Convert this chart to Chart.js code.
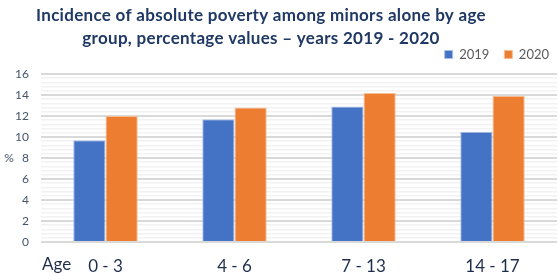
<!DOCTYPE html>
<html>
<head>
<meta charset="utf-8">
<script src="https://cdn.jsdelivr.net/npm/chart.js@4/dist/chart.umd.min.js"></script>
<style>
  html, body { margin: 0; padding: 0; background: #ffffff; }
  #wrap { width: 558px; height: 274px; position: relative; }
</style>
</head>
<body>
<div id="wrap"><canvas id="c"></canvas></div>
<script>
const titleLines = ['Incidence of absolute poverty among minors alone by age', 'group, percentage values \u2013 years 2019 - 2020'];
const categories = ['0 - 3', '4 - 6', '7 - 13', '14 - 17'];
const seriesNames = ['2019', '2020'];
const values2019 = [9.7, 11.7, 12.9, 10.5];
const values2020 = [12.0, 12.8, 14.2, 13.9];
const yMin = 0;
const yMax = 16;
const yMajorStep = 2;
const yMinorStep = 0.4;
const yUnitLabel = '%';
const xAxisLabel = 'Age';

const isMajor = v => Math.abs(v / yMajorStep - Math.round(v / yMajorStep)) < 1e-6;

const extraText = {
  id: 'extraText',
  afterLayout(chart) {
    const lg = chart.legend;
    if (lg) {
      lg.left += 7; lg.right += 7;
      lg.top -= 3; lg.bottom -= 3;
    }
  },
  afterDraw(chart) {
    const ctx = chart.ctx;
    const ys = chart.scales.y;
    ctx.save();
    // title
    ctx.fillStyle = '#1F3864';
    ctx.font = 'bold 17px Lato';
    if ('letterSpacing' in ctx) ctx.letterSpacing = '0.3px';
    ctx.textAlign = 'center';
    ctx.textBaseline = 'middle';
    ctx.fillText(titleLines[0], 261, 16);
    ctx.fillText(titleLines[1], 261, 38.5);
    if ('letterSpacing' in ctx) ctx.letterSpacing = '0px';
    // % unit label
    ctx.fillStyle = '#44546A';
    ctx.font = '12px Lato';
    ctx.textAlign = 'center';
    ctx.fillText(yUnitLabel, 9, ys.getPixelForValue(8));
    // Age label
    ctx.fillStyle = '#1F2D4D';
    ctx.font = '17px Lato';
    ctx.textAlign = 'left';
    ctx.fillText(xAxisLabel, 42, 265);
    ctx.restore();
  }
};

new Chart(document.getElementById('c'), {
  type: 'bar',
  data: {
    labels: categories,
    datasets: [
      { label: seriesNames[0], data: values2019, backgroundColor: '#4472C4', borderColor: '#A9BFE6', borderWidth: 1, borderSkipped: 'bottom' },
      { label: seriesNames[1], data: values2020, backgroundColor: '#ED7D31', borderColor: '#F6BE97', borderWidth: 1, borderSkipped: 'bottom' }
    ]
  },
  options: {
    responsive: true,
    maintainAspectRatio: false,
    animation: false,
    layout: { padding: { top: 36, left: 0, right: 1, bottom: 0 } },
    datasets: { bar: { barPercentage: 1.0, categoryPercentage: 0.5 } },
    plugins: {
      title: { display: false },
      tooltip: { enabled: false },
      legend: {
        display: true,
        position: 'top',
        align: 'end',
        labels: {
          boxWidth: 8,
          boxHeight: 8,
          padding: 15,
          color: '#595959',
          font: { family: 'Lato', size: 13 }
        }
      }
    },
    scales: {
      x: {
        grid: { display: false, drawTicks: false },
        border: { display: false },
        ticks: { color: '#1F2D4D', font: { family: 'Lato', size: 17 }, padding: 14, maxRotation: 0 },
        afterFit(s) { s.height = 32; }
      },
      y: {
        min: yMin,
        max: yMax,
        border: { display: false },
        grid: {
          drawTicks: false,
          color: ctx => isMajor(ctx.tick.value) ? '#D9D9D9' : '#F2F2F2',
          lineWidth: ctx => isMajor(ctx.tick.value) ? 2 : 1.5
        },
        ticks: {
          stepSize: yMinorStep,
          maxTicksLimit: 100,
          autoSkip: false,
          color: '#44546A',
          font: { family: 'Lato', size: 12 },
          padding: 12,
          callback: v => isMajor(v) ? String(Math.round(v)) : ''
        },
        afterFit(s) { s.width = 41; }
      }
    }
  },
  plugins: [extraText]
});
</script>
</body>
</html>
